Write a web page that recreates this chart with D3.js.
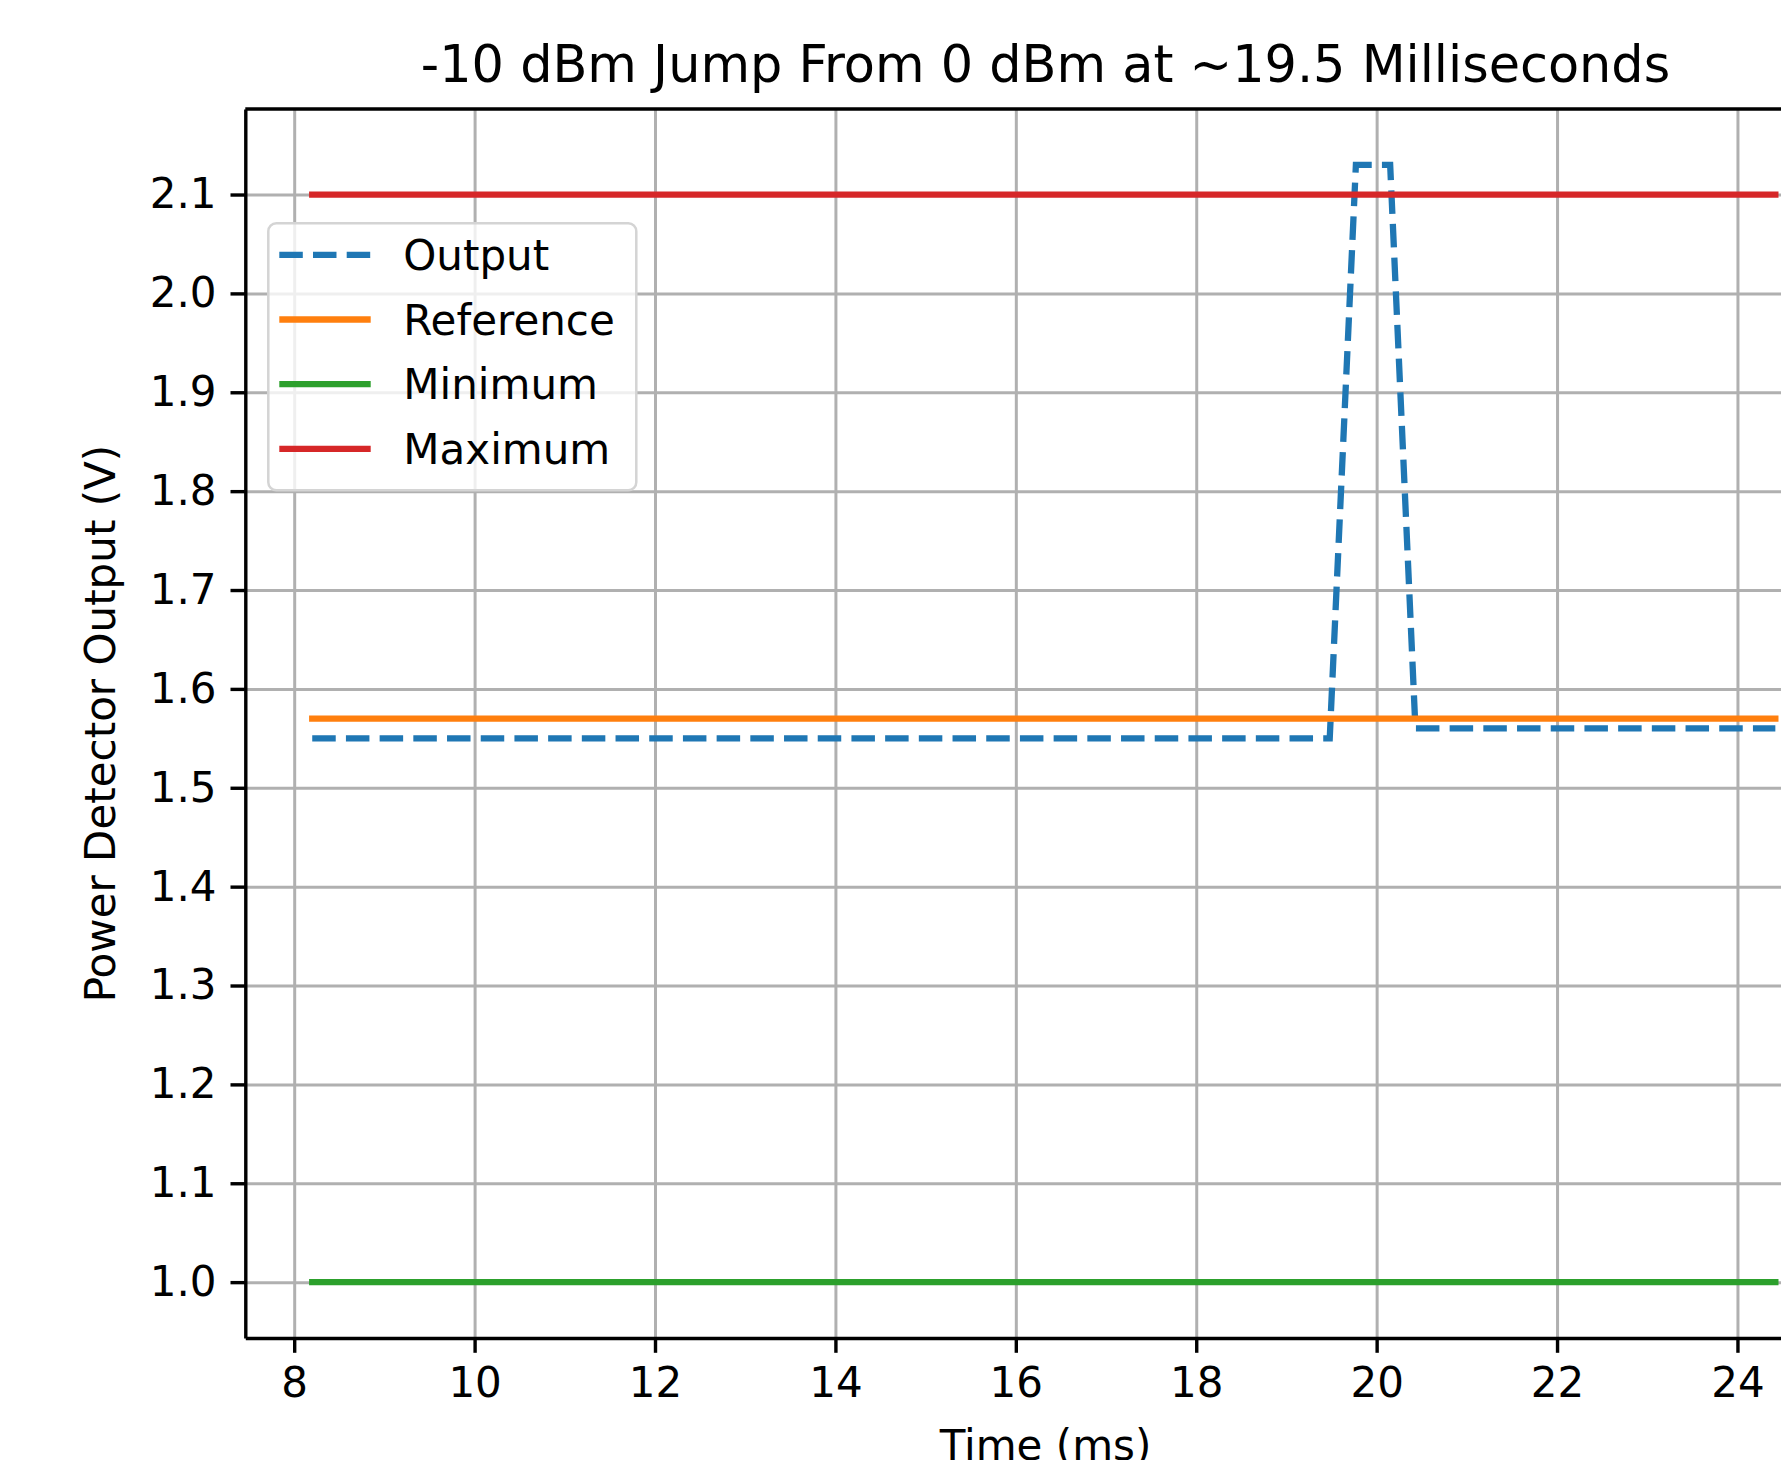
<!DOCTYPE html>
<html>
<head>
<meta charset="utf-8">
<script src="https://cdn.jsdelivr.net/npm/d3@7"></script>
<style>
  body { margin: 0; background: #fff; }
  svg { display: block; font-family: "DejaVu Sans", sans-serif; }
</style>
</head>
<body>
<div id="chart"></div>
<script>
// detector output, time in ms
const outTime = [8.2, 19.48, 19.77, 20.15, 20.43, 24.42];
const outVolt = [1.55, 1.55, 2.13, 2.13, 1.56, 1.56];

// flat reference / limit lines
const limTime = [8.2, 24.42];
const refVolt = [1.57, 1.57];
const minVolt = [1.0, 1.0];
const maxVolt = [2.1, 2.1];

const xTicks = [8, 10, 12, 14, 16, 18, 20, 22, 24];
const yTicks = [1.0, 1.1, 1.2, 1.3, 1.4, 1.5, 1.6, 1.7, 1.8, 1.9, 2.0, 2.1];

const series = [
  {name: "Output", t: outTime, v: outVolt, color: "#1f77b4", dash: "23.5,10.2"},
  {name: "Reference", t: limTime, v: refVolt, color: "#ff7f0e", dash: null},
  {name: "Minimum", t: limTime, v: minVolt, color: "#2ca02c", dash: null},
  {name: "Maximum", t: limTime, v: maxVolt, color: "#d62728", dash: null}
];

var margin = {top: 109, left: 245.3},
  width = 1600.4,
  height = 1229;

var x = d3.scaleLinear().domain([7.458, 25.2]).range([0, width]);
var y = d3.scaleLinear().domain([0.9435, 2.1865]).range([height, 0]);

var svg = d3.select("#chart").append("svg")
  .attr("width", 1781)
  .attr("height", 1460);

var g = svg.append("g")
  .attr("transform", "translate(" + margin.left + "," + margin.top + ")");

// grid
g.append("g")
  .attr("transform", "translate(0," + height + ")")
  .call(d3.axisBottom(x).tickValues(xTicks).tickSize(-height).tickFormat(""))
  .call(s => s.select(".domain").remove())
  .selectAll("line").attr("stroke", "#b0b0b0").attr("stroke-width", 3);

g.append("g")
  .call(d3.axisLeft(y).tickValues(yTicks).tickSize(-width).tickFormat(""))
  .call(s => s.select(".domain").remove())
  .selectAll("line").attr("stroke", "#b0b0b0").attr("stroke-width", 3);

// lines
var line = d3.line()
  .x(d => x(d[0]))
  .y(d => y(d[1]));

g.selectAll(".series")
  .data(series)
  .enter().append("path")
  .attr("class", "series")
  .attr("fill", "none")
  .attr("stroke", d => d.color)
  .attr("stroke-width", 6.3)
  .attr("stroke-dasharray", d => d.dash)
  .attr("stroke-linecap", d => d.dash ? "butt" : "square")
  .attr("d", d => line(d.t.map((t, i) => [t, d.v[i]])));

// axes
var xAxis = g.append("g")
  .attr("transform", "translate(0," + height + ")")
  .call(d3.axisBottom(x).tickValues(xTicks).tickSize(14.8).tickSizeOuter(0).tickPadding(14));

var yAxis = g.append("g")
  .call(d3.axisLeft(y).tickValues(yTicks).tickFormat(d3.format(".1f")).tickSize(14.8).tickSizeOuter(0).tickPadding(14));

[xAxis, yAxis].forEach(function(a) {
  a.select(".domain").attr("stroke", "#000").attr("stroke-width", 3.4);
  a.selectAll(".tick line").attr("stroke", "#000").attr("stroke-width", 3.4);
  a.selectAll(".tick text")
    .attr("fill", "#000")
    .style("font-size", "42px")
    .style("font-family", "DejaVu Sans");
});

// top spine
g.append("line")
  .attr("x1", 0).attr("x2", width)
  .attr("y1", 0).attr("y2", 0)
  .attr("stroke", "#000").attr("stroke-width", 3.4);

// legend
var leg = svg.append("g").attr("transform", "translate(268.3,223.3)");
leg.append("rect")
  .attr("width", 368).attr("height", 267)
  .attr("rx", 8).attr("ry", 8)
  .attr("fill", "#fff").attr("fill-opacity", 0.8)
  .attr("stroke", "#d4d4d4").attr("stroke-width", 2.5);

var rows = leg.selectAll(".row")
  .data(series)
  .enter().append("g")
  .attr("transform", (d, i) => "translate(0," + (31.5 + i * 64.7) + ")");

rows.append("line")
  .attr("x1", 11).attr("x2", 102.4)
  .attr("stroke", d => d.color)
  .attr("stroke-width", 6.3)
  .attr("stroke-dasharray", d => d.dash);

rows.append("text")
  .attr("x", 135)
  .attr("dy", "0.36em")
  .style("font-size", "42px")
  .text(d => d.name);

// title and axis labels
svg.append("text")
  .attr("x", margin.left + width / 2)
  .attr("y", 82)
  .style("text-anchor", "middle")
  .style("font-size", "50.9px")
  .text("-10 dBm Jump From 0 dBm at ~19.5 Milliseconds");

svg.append("text")
  .attr("x", margin.left + width / 2)
  .attr("y", 1460)
  .style("text-anchor", "middle")
  .style("font-size", "42px")
  .text("Time (ms)");

svg.append("text")
  .attr("transform", "rotate(-90)")
  .attr("x", -(margin.top + height / 2))
  .attr("y", 100)
  .attr("dy", "0.36em")
  .style("text-anchor", "middle")
  .style("font-size", "42px")
  .text("Power Detector Output (V)");
</script>
</body>
</html>
